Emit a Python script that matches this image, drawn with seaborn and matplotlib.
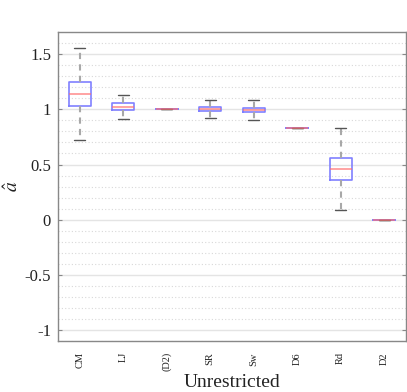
import numpy as np
import pandas as pd
import matplotlib
matplotlib.use("Agg")
import matplotlib.pyplot as plt
from matplotlib.ticker import MultipleLocator, FuncFormatter
import seaborn as sns

categories = ["CM", "LJ", "(D2)", "SR", "Sw", "D6", "Rd", "D2"]
whisker_low = [0.72, 0.91, 1.00, 0.918, 0.905, 0.833, 0.09, 0.0]
q1 = [1.033, 0.997, 1.00, 0.982, 0.973, 0.833, 0.364, 0.0]
median = [1.136, 1.018, 1.00, 1.000, 0.990, 0.833, 0.457, 0.0]
q3 = [1.245, 1.055, 1.00, 1.018, 1.015, 0.833, 0.555, 0.0]
whisker_high = [1.558, 1.13, 1.00, 1.082, 1.082, 0.833, 0.827, 0.0]

rows = []
for i, c in enumerate(categories):
    for v in (whisker_low[i], q1[i], median[i], q3[i], whisker_high[i]):
        rows.append({"method": c, "value": v})
df = pd.DataFrame(rows)

sns.set_style("white")
plt.rcParams["font.family"] = ["Liberation Serif", "DejaVu Serif"]
plt.rcParams["mathtext.fontset"] = "stix"
plt.rcParams["axes.unicode_minus"] = False

fig = plt.figure(figsize=(4.07, 3.92), dpi=100)
ax = fig.add_axes([0.1425, 0.130, 0.855, 0.788])

sns.boxplot(
    data=df, x="method", y="value", order=categories, ax=ax,
    whis=np.inf, width=0.5, fill=False, linecolor="#7f7fff", linewidth=1.0,
    boxprops=dict(color="#8080ff", linewidth=1.2),
    medianprops=dict(color="#ff7070", linewidth=1.2, alpha=0.75),
    whiskerprops=dict(color="#a8a8a8", linestyle=(0, (3, 2.5)), linewidth=1.5),
    capprops=dict(color="#555555", linewidth=1.0),
    showfliers=False,
)

ax.set_ylim(-1.1, 1.7)
ax.set_xlim(-0.5, 7.5)
ax.yaxis.set_major_locator(MultipleLocator(0.5))
ax.yaxis.set_minor_locator(MultipleLocator(0.1))
ax.yaxis.set_major_formatter(FuncFormatter(lambda v, p: f"{v:g}"))
ax.grid(True, axis="y", which="major", color="#e4e4e4", linewidth=1.0, linestyle="-")
ax.grid(True, axis="y", which="minor", color="#d8d8d8", linewidth=0.8, linestyle=(0, (1, 2)))
ax.set_axisbelow(True)

for s in ax.spines.values():
    s.set_color("#888888")
    s.set_linewidth(1.0)

ax.tick_params(axis="y", which="major", direction="in", length=3, color="#888888",
               left=True, right=True, labelsize=12, labelcolor="#222222", pad=5)
ax.tick_params(axis="y", which="minor", left=False, right=False)
ax.tick_params(axis="x", which="major", length=0, labelsize=7.5, labelrotation=90,
               labelcolor="#222222", pad=8)

ax.set_xlabel("Unrestricted", fontsize=14, color="#222222", labelpad=2)
ax.set_ylabel(r"$\hat{a}$", fontsize=14, color="#222222")
ax.yaxis.label.set_verticalalignment("center")
ax.yaxis.set_label_coords(-0.13, 0.5)

fig.savefig("out.png", dpi=100)
